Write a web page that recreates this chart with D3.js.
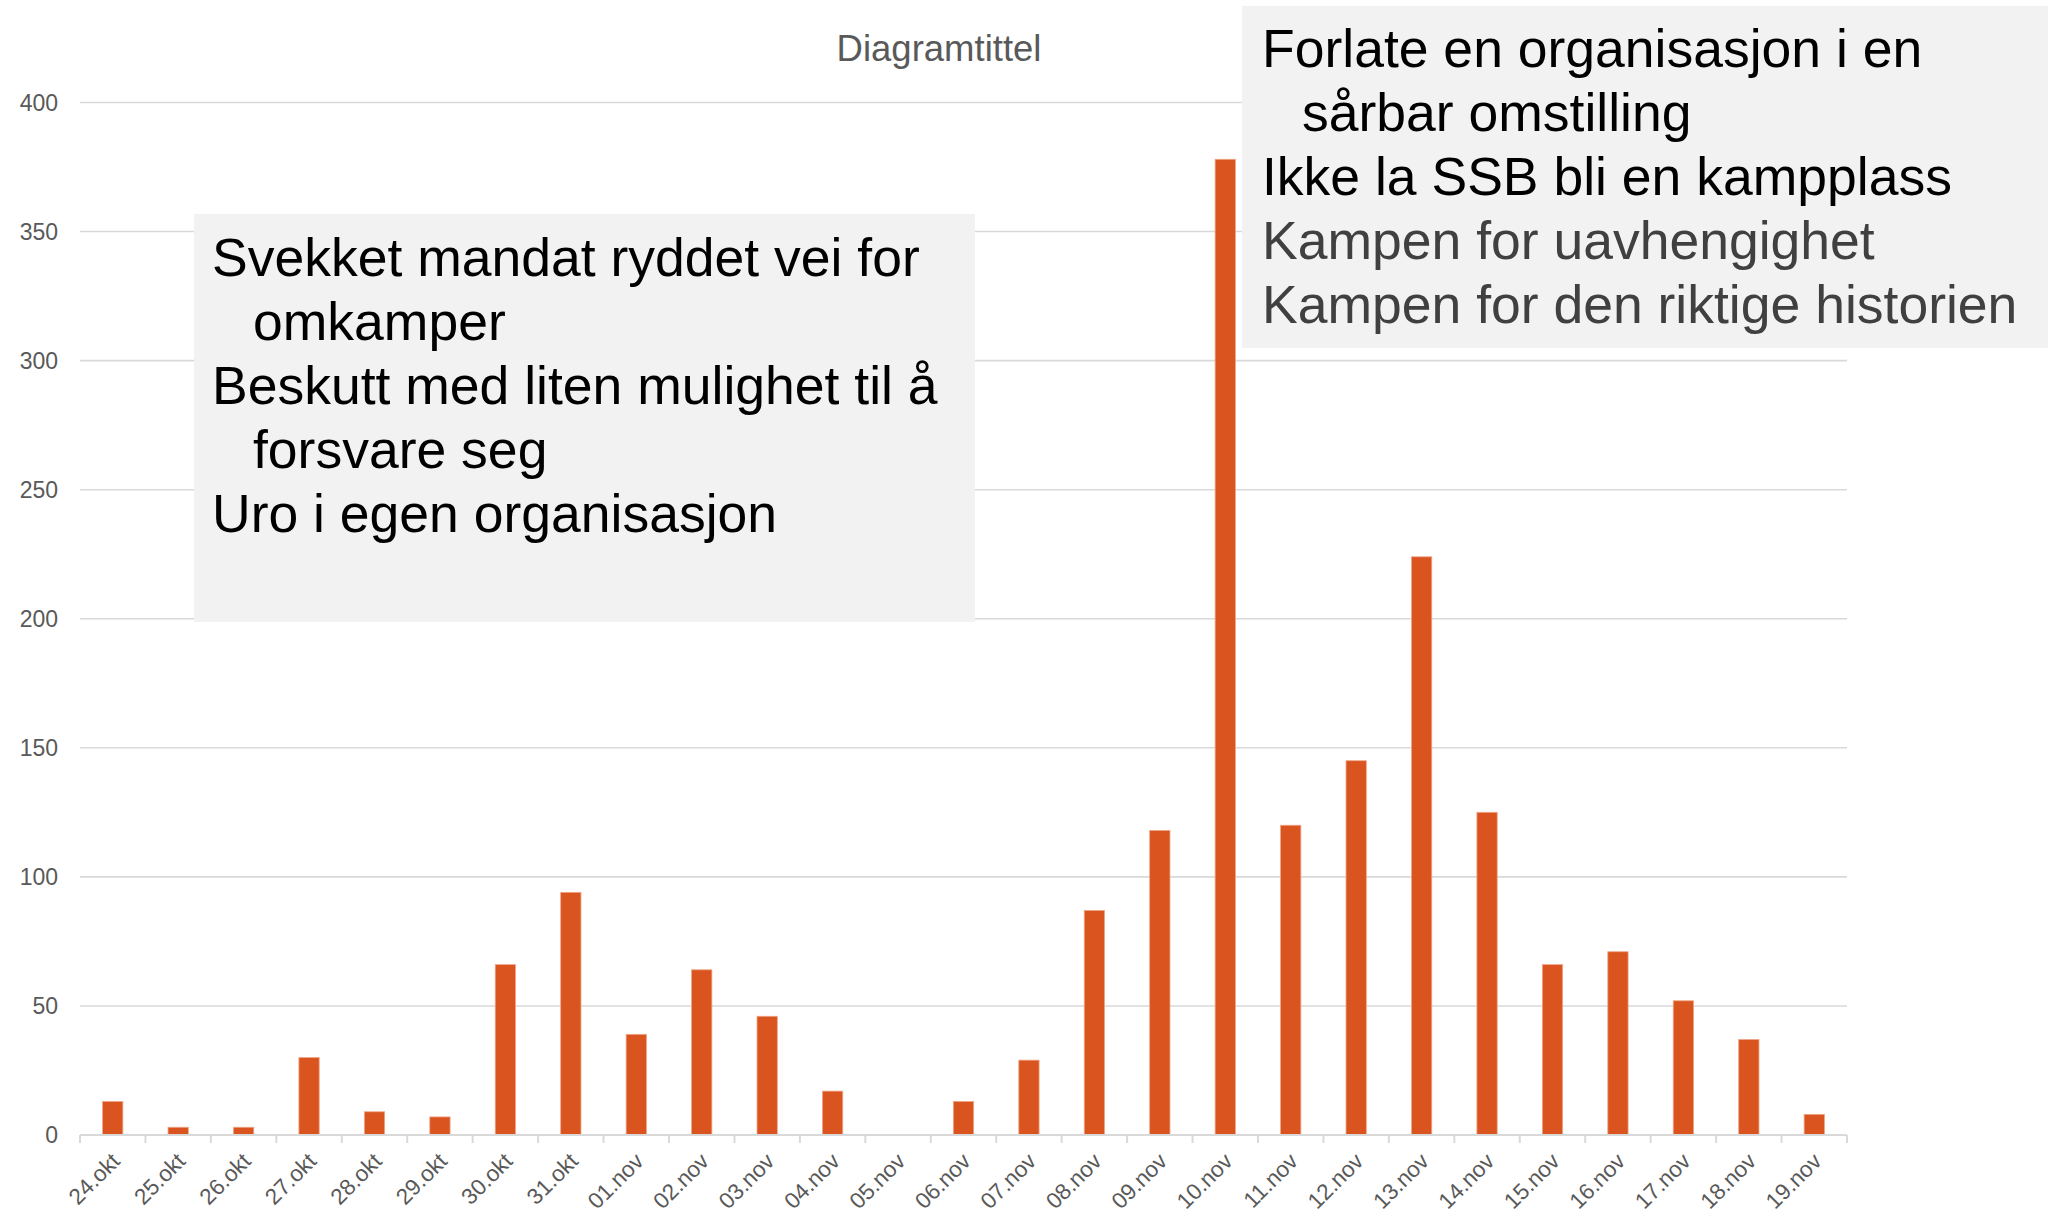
<!DOCTYPE html>
<html>
<head>
<meta charset="utf-8">
<script src="https://cdn.jsdelivr.net/npm/d3@7"></script>
<style>
  body { margin: 0; background: #ffffff; }
  svg { display: block; font-family: "Liberation Sans", Arial, sans-serif; }
</style>
</head>
<body>
<script>
// data
var dates = ["24.okt", "25.okt", "26.okt", "27.okt", "28.okt", "29.okt", "30.okt", "31.okt",
    "01.nov", "02.nov", "03.nov", "04.nov", "05.nov", "06.nov", "07.nov", "08.nov", "09.nov",
    "10.nov", "11.nov", "12.nov", "13.nov", "14.nov", "15.nov", "16.nov", "17.nov", "18.nov", "19.nov"];
var counts = [13, 3, 3, 30, 9, 7, 66, 94, 39, 64, 46, 17, 0, 13, 29, 87, 118,
    378, 120, 145, 224, 125, 66, 71, 52, 37, 8];
var yTicks = [0, 50, 100, 150, 200, 250, 300, 350, 400];
var chartTitle = "Diagramtittel";

// the two annotation boxes (indent = wrapped continuation line)
var leftLines = [
    { text: "Svekket mandat ryddet vei for", indent: false, color: "#000000" },
    { text: "omkamper", indent: true, color: "#000000" },
    { text: "Beskutt med liten mulighet til å", indent: false, color: "#000000" },
    { text: "forsvare seg", indent: true, color: "#000000" },
    { text: "Uro i egen organisasjon", indent: false, color: "#000000" }
];
var rightLines = [
    { text: "Forlate en organisasjon i en", indent: false, color: "#000000" },
    { text: "sårbar omstilling", indent: true, color: "#000000" },
    { text: "Ikke la SSB bli en kampplass", indent: false, color: "#000000" },
    { text: "Kampen for uavhengighet", indent: false, color: "#404040" },
    { text: "Kampen for den riktige historien", indent: false, color: "#404040" }
];

window.onload = () => {
    var W = 2048, H = 1216;
    var left = 80, right = 1847, top = 102.5, bottom = 1135;

    var svg = d3.select("body").append("svg")
        .attr("width", W)
        .attr("height", H);

    var x = d3.scaleBand().domain(dates).range([left, right]).padding(0);
    var y = d3.scaleLinear().domain([0, 400]).range([bottom, top]);
    var barFrac = 0.31;

    // gridlines
    svg.append("g")
        .selectAll("line")
        .data(yTicks)
        .enter()
        .append("line")
        .attr("x1", left)
        .attr("x2", right)
        .attr("y1", d => y(d))
        .attr("y2", d => y(d))
        .attr("stroke", "#d9d9d9")
        .attr("stroke-width", 1.6);

    // y labels
    svg.append("g")
        .selectAll("text")
        .data(yTicks)
        .enter()
        .append("text")
        .attr("x", 58)
        .attr("y", d => y(d))
        .attr("dy", "0.35em")
        .attr("text-anchor", "end")
        .style("font-size", "23px")
        .style("fill", "#595959")
        .text(d => d);

    // bars
    svg.append("g")
        .selectAll("rect")
        .data(counts)
        .enter()
        .append("rect")
        .attr("x", (d, i) => x(dates[i]) + x.bandwidth() * (1 - barFrac) / 2)
        .attr("width", x.bandwidth() * barFrac)
        .attr("y", d => y(d))
        .attr("height", d => y(0) - y(d))
        .attr("fill", "#d9541e")
        .attr("stroke", d => d > 0 ? "#f0a587" : "none")
        .attr("stroke-width", 0.8);

    // x axis line + ticks at category boundaries
    svg.append("line")
        .attr("x1", left).attr("x2", right)
        .attr("y1", bottom).attr("y2", bottom)
        .attr("stroke", "#d9d9d9")
        .attr("stroke-width", 2);

    var bounds = dates.map(d => x(d)).concat([right]);
    svg.append("g")
        .selectAll("line")
        .data(bounds)
        .enter()
        .append("line")
        .attr("x1", d => d).attr("x2", d => d)
        .attr("y1", bottom).attr("y2", bottom + 8)
        .attr("stroke", "#d9d9d9")
        .attr("stroke-width", 2);

    // rotated category labels
    svg.append("g")
        .selectAll("text")
        .data(dates)
        .enter()
        .append("text")
        .attr("transform", d => "translate(" + (x(d) + x.bandwidth() / 2 + 3) + "," + 1157 + ") rotate(-45)")
        .attr("dy", "0.35em")
        .attr("text-anchor", "end")
        .style("font-size", "22.5px")
        .style("fill", "#595959")
        .text(d => d);

    // title
    svg.append("text")
        .attr("x", 939)
        .attr("y", 61)
        .attr("text-anchor", "middle")
        .style("font-size", "36.5px")
        .style("fill", "#595959")
        .text(chartTitle);

    // annotation boxes
    function textBox(lines, bx, by, bw, bh, tx, indentX, firstBase) {
        var g = svg.append("g");
        g.append("rect")
            .attr("x", bx).attr("y", by)
            .attr("width", bw).attr("height", bh)
            .attr("fill", "#f2f2f2");
        g.selectAll("text")
            .data(lines)
            .enter()
            .append("text")
            .attr("x", d => d.indent ? indentX : tx)
            .attr("y", (d, i) => firstBase + i * 64)
            .style("font-size", "53.5px")
            .style("fill", d => d.color)
            .text(d => d.text);
    }

    textBox(leftLines, 194, 214, 781, 408, 212, 253, 276);
    textBox(rightLines, 1242, 6, 806, 342, 1262, 1302, 67);
};
</script>
</body>
</html>
